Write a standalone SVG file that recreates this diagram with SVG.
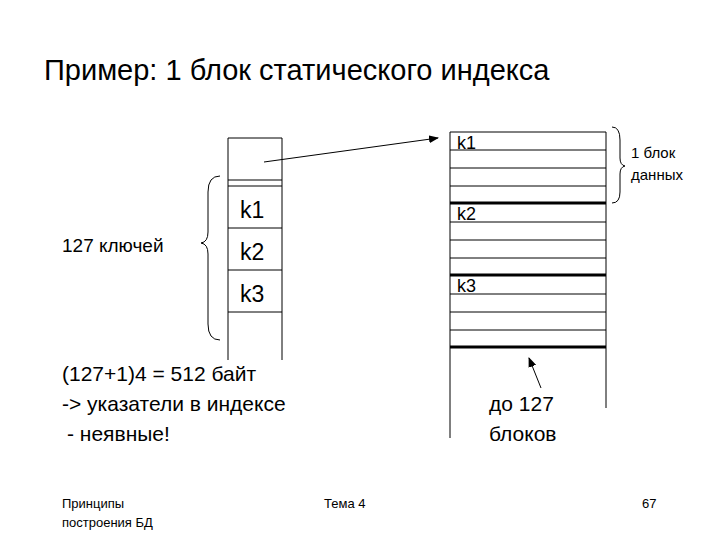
<svg xmlns="http://www.w3.org/2000/svg" width="720" height="540" viewBox="0 0 720 540">
<style>
text{font-family:"Liberation Sans",Arial,sans-serif;fill:#000}
.l{stroke:#000;stroke-width:1;fill:none}
.t{stroke:#000;stroke-width:3;fill:none}
</style>
<defs><marker id="a" markerWidth="10" markerHeight="8" refX="9" refY="4" orient="auto" markerUnits="userSpaceOnUse"><path d="M0,0L10,4L0,8z"/></marker></defs>
<rect width="720" height="540" fill="#fff"/>
<text x="44" y="80" font-size="29">Пример: 1 блок статического индекса</text>
<g id="index">
<path class="l" d="M228,360V138H282V360M228,180H282M228,186H282M228,228H282M228,270H282M228,312H282"/>
<text x="240" y="218" font-size="23">k1</text>
<text x="240" y="260" font-size="23">k2</text>
<text x="240" y="302" font-size="23">k3</text>
</g>
<g id="data">
<path class="l" d="M450,438V132H606V408M450,150H606M450,168H606M450,186H606M450,222H606M450,240H606M450,258H606M450,294H606M450,312H606M450,330H606"/>
<path class="t" d="M450,203H606M450,275H606M450,347H606"/>
<text x="457" y="149" font-size="18">k1</text>
<text x="457" y="220" font-size="18">k2</text>
<text x="457" y="292" font-size="18">k3</text>
</g>
<g id="braces">
<path class="l" d="M612,127Q620,127 620,140V158Q620,165 625,166Q620,167 620,174V192Q620,203 612,203"/>
<path class="l" d="M220,176Q208,176 208,192V232Q208,242 201,243Q208,244 208,254V324Q208,340 220,340"/>
<text x="631" y="158" font-size="15">1 блок</text>
<text x="631" y="180" font-size="15">данных</text>
<text x="62" y="252" font-size="19">127 ключей</text>
</g>
<g id="connectors">
<line class="l" x1="264" y1="162" x2="438" y2="138" marker-end="url(#a)"/>
<line class="l" x1="541" y1="388" x2="529" y2="358" marker-end="url(#a)"/>
</g>
<text x="62" y="381" font-size="21">(127+1)4 = 512 байт</text>
<text x="62" y="411" font-size="21">-&gt; указатели в индексе</text>
<text x="67" y="441" font-size="21">- неявные!</text>
<text x="489" y="411" font-size="21">до 127</text>
<text x="489" y="441" font-size="21">блоков</text>
<text x="62" y="508" font-size="13">Принципы</text>
<text x="62" y="527" font-size="13">построения БД</text>
<text x="324" y="508" font-size="13">Тема 4</text>
<text x="642" y="508" font-size="13">67</text>
</svg>
